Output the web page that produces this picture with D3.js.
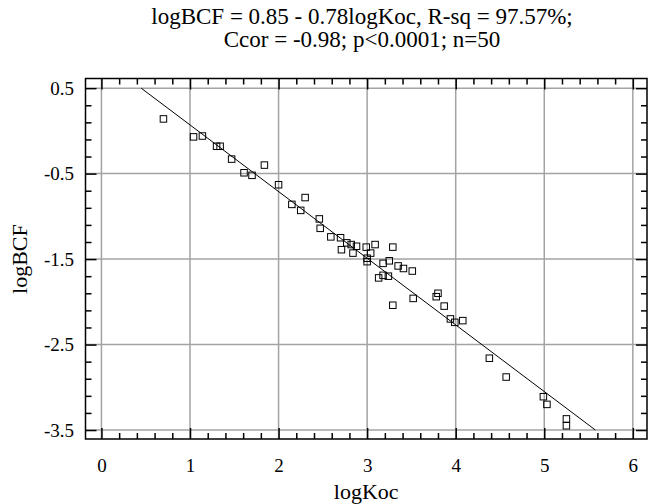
<!DOCTYPE html>
<html>
<head>
<meta charset="utf-8">
<script src="https://cdn.jsdelivr.net/npm/d3@7"></script>
<style>
  body { margin: 0; background: #fff; }
  svg text { fill: #000; font-family: "Liberation Serif", "Times New Roman", serif; }
</style>
</head>
<body>
<div id="chart"></div>
<script>
// data
var logKoc = [0.70, 1.04, 1.14, 1.30, 1.34, 1.47, 1.61, 1.70, 1.84, 2.00,
              2.15, 2.30, 2.25, 2.46, 2.47, 2.59, 2.70, 2.71, 2.77, 2.82,
              2.88, 2.84, 2.99, 3.09, 3.04, 3.29, 3.00, 3.00, 3.18, 3.25,
              3.35, 3.41, 3.51, 3.13, 3.18, 3.24, 3.29, 3.52, 3.78, 3.80,
              3.87, 3.94, 3.99, 4.08, 4.38, 4.57, 4.99, 5.03, 5.25, 5.25];
var logBCF = [0.14, -0.07, -0.06, -0.18, -0.18, -0.33, -0.49, -0.52, -0.40, -0.63,
              -0.86, -0.78, -0.93, -1.03, -1.14, -1.24, -1.25, -1.39, -1.31, -1.33,
              -1.35, -1.43, -1.36, -1.33, -1.43, -1.36, -1.49, -1.53, -1.55, -1.52,
              -1.58, -1.61, -1.64, -1.72, -1.69, -1.70, -2.04, -1.96, -1.94, -1.90,
              -2.05, -2.20, -2.24, -2.22, -2.66, -2.88, -3.11, -3.20, -3.37, -3.45];

// fitted model from the title
var intercept = 0.85,
    slope = -0.78;

var xTicks = [0, 1, 2, 3, 4, 5, 6];
var yTicks = [0.5, -0.5, -1.5, -2.5, -3.5];
var yTickLabels = ['0.5', '-0.5', '-1.5', '-2.5', '-3.5'];

var titleLines = ['logBCF = 0.85 - 0.78logKoc, R-sq = 97.57%;',
                  'Ccor = -0.98; p<0.0001; n=50'];

var serif = '"Liberation Serif", "Times New Roman", serif';

var w = 649,
    h = 504,
    frame = { left: 85.5, right: 647, top: 78.5, bottom: 439 };

var x = d3.scaleLinear().domain([-0.18, 6.16]).range([frame.left, frame.right]);
var y = d3.scaleLinear().domain([-3.605, 0.613]).range([frame.bottom, frame.top]);

var svg = d3.select('#chart')
    .append('svg')
    .attr('width', w)
    .attr('height', h)
    .style('font-family', serif);

// grid
svg.append('g')
    .selectAll('line')
    .data(xTicks)
    .enter()
    .append('line')
    .attr('x1', function(d){ return x(d); })
    .attr('x2', function(d){ return x(d); })
    .attr('y1', frame.top)
    .attr('y2', frame.bottom)
    .attr('stroke', '#a3a3a3')
    .attr('stroke-width', 1.5);

svg.append('g')
    .selectAll('line')
    .data(yTicks)
    .enter()
    .append('line')
    .attr('x1', frame.left)
    .attr('x2', frame.right)
    .attr('y1', function(d){ return y(d); })
    .attr('y2', function(d){ return y(d); })
    .attr('stroke', '#a3a3a3')
    .attr('stroke-width', 1.5);

// ticks, all pointing inward
var xMinor = d3.range(-0.2, 6.2, 0.2).map(function(d){ return +d.toFixed(1); })
    .filter(function(d){ return xTicks.indexOf(d) < 0 && d > -0.18; });
var yMinor = d3.range(-3.5, 0.6, 0.2).map(function(d){ return +d.toFixed(1); })
    .filter(function(d){ return yTicks.indexOf(d) < 0; });

var styleAxis = function(g){
    g.attr('font-family', null).attr('font-size', null);
    g.select('.domain').remove();
    g.selectAll('.tick line').attr('stroke', '#000').attr('stroke-width', 1.5);
    g.selectAll('.tick text')
        .style('font-family', serif)
        .style('font-size', '19px');
};

svg.append('g')
    .attr('transform', 'translate(0,' + frame.bottom + ')')
    .call(d3.axisBottom(x).tickValues(xTicks).tickSize(-11).tickPadding(20)
        .tickFormat(function(d){ return String(d); }))
    .call(styleAxis);
svg.append('g')
    .attr('transform', 'translate(0,' + frame.bottom + ')')
    .call(d3.axisBottom(x).tickValues(xMinor).tickSize(-6).tickFormat(''))
    .call(styleAxis);
svg.append('g')
    .attr('transform', 'translate(0,' + frame.top + ')')
    .call(d3.axisTop(x).tickValues(xTicks).tickSize(-11).tickFormat(''))
    .call(styleAxis);
svg.append('g')
    .attr('transform', 'translate(0,' + frame.top + ')')
    .call(d3.axisTop(x).tickValues(xMinor).tickSize(-6).tickFormat(''))
    .call(styleAxis);

svg.append('g')
    .attr('transform', 'translate(' + frame.left + ',0)')
    .call(d3.axisLeft(y).tickValues(yTicks).tickSize(-11).tickPadding(11.5)
        .tickFormat(function(d, i){ return yTickLabels[i]; }))
    .call(styleAxis);
svg.append('g')
    .attr('transform', 'translate(' + frame.left + ',0)')
    .call(d3.axisLeft(y).tickValues(yMinor).tickSize(-6).tickFormat(''))
    .call(styleAxis);
svg.append('g')
    .attr('transform', 'translate(' + frame.right + ',0)')
    .call(d3.axisRight(y).tickValues(yTicks).tickSize(-11).tickFormat(''))
    .call(styleAxis);
svg.append('g')
    .attr('transform', 'translate(' + frame.right + ',0)')
    .call(d3.axisRight(y).tickValues(yMinor).tickSize(-6).tickFormat(''))
    .call(styleAxis);

// frame
svg.append('rect')
    .attr('x', frame.left)
    .attr('y', frame.top)
    .attr('width', frame.right - frame.left)
    .attr('height', frame.bottom - frame.top)
    .attr('fill', 'none')
    .attr('stroke', '#000')
    .attr('stroke-width', 1.5);

// fitted line, clipped to the labelled y range
var yTop = yTicks[0], yBottom = yTicks[yTicks.length - 1];
var fitLine = [
    { x: (yTop - intercept) / slope, y: yTop },
    { x: (yBottom - intercept) / slope, y: yBottom }
];
svg.append('path')
    .datum(fitLine)
    .attr('d', d3.line().x(function(d){ return x(d.x); }).y(function(d){ return y(d.y); }))
    .attr('fill', 'none')
    .attr('stroke', '#000')
    .attr('stroke-width', 1);

// points
var points = logKoc.map(function(k, i){ return { x: k, y: logBCF[i] }; });
var s = 6.5;
svg.append('g')
    .selectAll('rect')
    .data(points)
    .enter()
    .append('rect')
    .attr('x', function(d){ return x(d.x) - s / 2; })
    .attr('y', function(d){ return y(d.y) - s / 2; })
    .attr('width', s)
    .attr('height', s)
    .attr('fill', 'none')
    .attr('stroke', '#000')
    .attr('stroke-width', 1);

// titles
svg.append('g')
    .selectAll('text')
    .data(titleLines)
    .enter()
    .append('text')
    .attr('x', 362)
    .attr('y', function(d, i){ return 24 + i * 23; })
    .attr('text-anchor', 'middle')
    .style('font-size', '23px')
    .text(function(d){ return d; });

svg.append('text')
    .attr('x', (frame.left + frame.right) / 2)
    .attr('y', 499)
    .attr('text-anchor', 'middle')
    .style('font-size', '22px')
    .text('logKoc');

svg.append('text')
    .attr('transform', 'translate(27,' + y(-1.5) + ') rotate(-90)')
    .attr('text-anchor', 'middle')
    .style('font-size', '22px')
    .text('logBCF');
</script>
</body>
</html>
